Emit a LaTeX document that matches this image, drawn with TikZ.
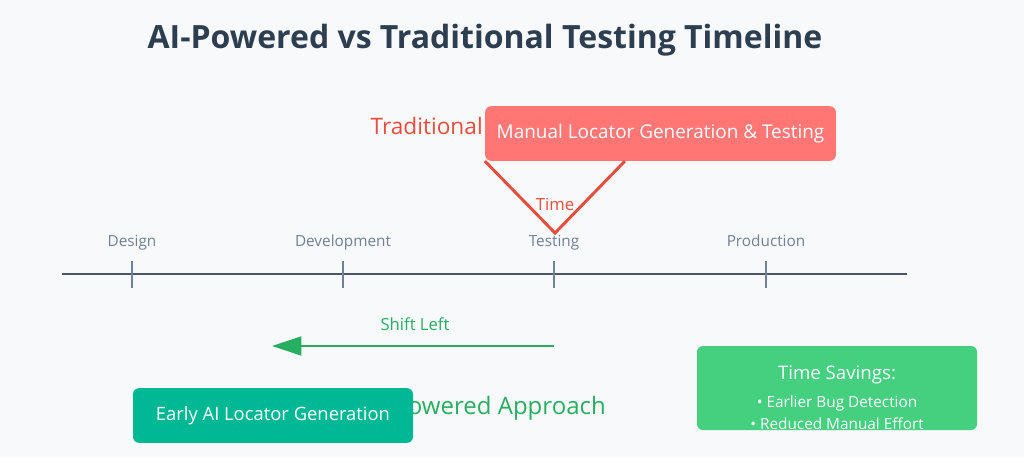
\documentclass[tikz,border=0pt]{standalone}
\usepackage{fontspec}
\setmainfont{Open Sans}
\usetikzlibrary{arrows.meta}
\definecolor{bgc}{HTML}{F8F9FA}
\definecolor{titlec}{HTML}{2C3E50}
\definecolor{linec}{HTML}{4A5568}
\definecolor{tickc}{HTML}{718096}
\definecolor{redc}{HTML}{E74C3C}
\definecolor{redbox}{HTML}{FF7675}
\definecolor{greenc}{HTML}{27AE60}
\definecolor{tealbox}{HTML}{00B894}
\definecolor{greenbox}{HTML}{45D07F}
\tikzset{
  phase/.style={text=tickc, anchor=base, font=\fontsize{11.5}{13}\selectfont},
  tick/.style={tickc, line width=1.5pt},
  box/.style={rounded corners=4.5pt, text=white, inner sep=0pt},
}
\begin{document}
\begin{tikzpicture}[x=0.75pt, y=-0.75pt]
  \fill[bgc] (0,0) rectangle (1024,457);
  \useasboundingbox (0,0) rectangle (1024,457);
  \node (title) at (485,40) [text=titlec, font=\bfseries\fontsize{24}{28}\selectfont] {AI-Powered vs Traditional Testing Timeline};
  % timeline
  \coordinate (t0) at (62,274);
  \coordinate (t1) at (907,274);
  \draw[linec, line width=2.2pt] (t0) -- (t1);
  \foreach \x/\name/\lbl in {132/design/Design, 343/dev/Development, 554/test/Testing, 766/prod/Production} {
    \draw[tick] (\x,261) -- (\x,288);
    \node (\name) at (\x,246) [phase] {\lbl};
  }
  % traditional
  \node (trad) at (483,126) [anchor=east, inner sep=0pt, text=redc, font=\fontsize{17}{20}\selectfont] {Traditional};
  \node (manual) at (660.5,133.5) [box, fill=redbox, minimum width=263pt, minimum height=41pt, font=\fontsize{14.2}{17}\selectfont] {Manual Locator Generation \& Testing};
  \coordinate (vtip) at (555,233);
  \draw[redc, line width=2.2pt] (manual.south west) -- (vtip) -- ([xshift=105pt]manual.south west);
  \node (time) at (555,204) [text=redc, font=\fontsize{12.5}{14}\selectfont] {Time};
  % shift left
  \node (shift) at (415,324) [text=greenc, font=\fontsize{12.5}{14}\selectfont] {Shift Left};
  \coordinate (sl0) at (554,346);
  \coordinate (sl1) at (272,346);
  \draw[greenc, line width=2.2pt, -{Triangle[length=22pt, width=14pt]}] (sl0) -- (sl1);
  % ai-powered
  \node (ai) at (606,408) [anchor=east, inner sep=0pt, text=greenc, font=\fontsize{18}{21}\selectfont] {AI-Powered Approach};
  \node (early) at (273,415.5) [box, fill=tealbox, minimum width=210pt, minimum height=41pt, font=\fontsize{13.8}{16}\selectfont] {Early AI Locator Generation};
  % savings
  \node (savings) at (837,388) [box, fill=greenbox, minimum width=210pt, minimum height=63pt] {};
  \node (savtitle) at (837,375) [text=white, font=\fontsize{14}{16}\selectfont] {Time Savings:};
  \node (sav1) at (837,404) [text=white, font=\fontsize{11.5}{13}\selectfont] {• Earlier Bug Detection};
  \node (sav2) at (837,424) [text=white, font=\fontsize{11.5}{13}\selectfont] {• Reduced Manual Effort};
\end{tikzpicture}
\end{document}
